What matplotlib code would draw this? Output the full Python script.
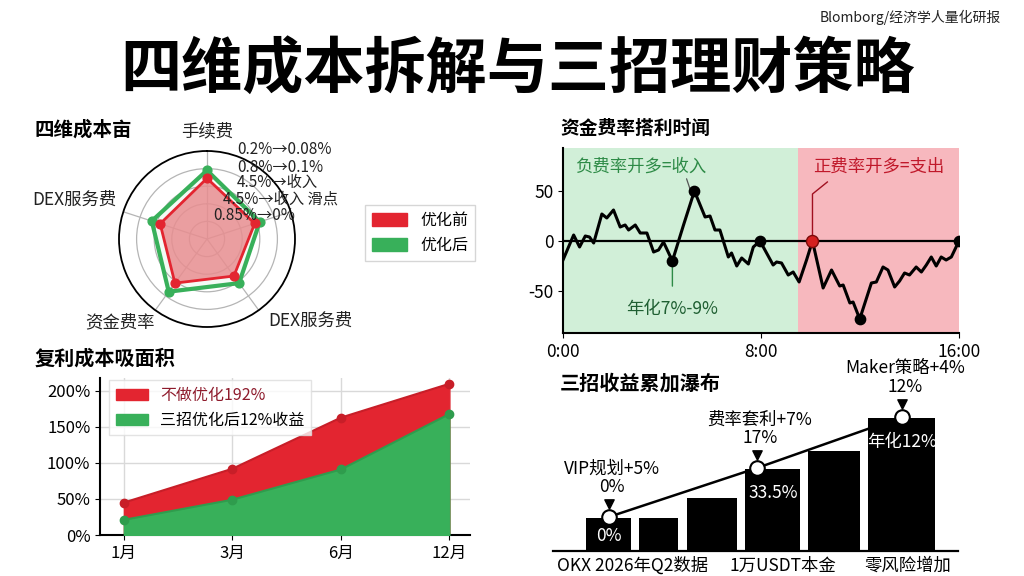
import numpy as np
import matplotlib
matplotlib.use('Agg')
import matplotlib.pyplot as plt
from matplotlib.patches import Patch

plt.rcParams['font.family'] = ['Noto Sans CJK SC', 'DejaVu Sans']
plt.rcParams['axes.unicode_minus'] = False

# ---- 数据 ----
radar_labels = ['手续费', 'DEX服务费', '资金费率', 'DEX服务费', '滑点']
radar_before = [0.69, 0.56, 0.62, 0.52, 0.57]
radar_after = [0.78, 0.66, 0.74, 0.62, 0.63]
radar_notes = ['0.2%→0.08%', '0.8%→0.1%', '4.5%→收入', '4.5%→收入 滑点', '0.85%→0%']

months = ['1月', '3月', '6月', '12月']
cost_no_opt = [45, 92, 163, 210]
cost_opt = [21, 49, 91, 168]

fr_hours = [0, 0.43, 0.67, 0.9, 1.07, 1.24, 1.57, 1.77, 2.04, 2.31, 2.51, 2.65, 2.92,
            3.12, 3.39, 3.66, 3.86, 4.06, 4.42, 4.87, 5.31, 5.74, 5.94, 6.14, 6.34,
            6.68, 6.81, 7.02, 7.22, 7.49, 7.69, 7.96, 8.49, 8.63, 8.83, 9.1, 9.3,
            9.54, 9.84, 10.08, 10.51, 10.85, 11.18, 11.32, 11.59, 11.72, 11.99,
            12.46, 12.66, 12.93, 13.13, 13.4, 13.6, 13.8, 14.0, 14.27, 14.48,
            14.68, 14.88, 15.08, 15.28, 15.48, 15.69, 16.0]
fr_values = [-19, 6, -6, 5, 4, -2, 27, 23, 31, 14, 16, 11, 16,
             8, 8, -11, -9, -1, -20, 16, 50, 24, 25, 11, 11,
             -16, -12, -25, -17, -23, -6, 0, -24, -21, -22, -34, -31,
             -41, -19, 0, -47, -29, -45, -44, -62, -61, -78,
             -42, -41, -26, -29, -46, -40, -32, -34, -26, -31,
             -24, -16, -25, -16, -19, -16, 0]
fr_black_marks = [(4.42, -20), (5.31, 50), (7.96, 0), (11.99, -78), (16.0, 0)]
fr_red_mark = (10.08, 0)
fr_split = 9.5

wf_values = [33, 33, 53, 82, 100, 133]
wf_inner = {0: '0%', 3: '33.5%', 5: '年化12%'}
wf_steps = ['VIP规划+5%\n0%', '费率套利+7%\n17%', 'Maker策略+4%\n12%']
wf_step_bar = [0, 3, 5]
wf_ticks = ['OKX 2026年Q2数据', '1万USDT本金', '零风险增加']

# 瀑布柱的摆放（布局，不是数据）
wf_pos = [0, 0.853, 1.766, 2.799, 3.848, 5.0]
wf_width = [0.77, 0.67, 0.85, 0.94, 0.89, 1.14]
wf_step_x = [0, 2.53, 5]
wf_tick_x = [0.4, 2.98, 5.11]

RED = '#e32530'
GREEN = '#38b05a'

fig = plt.figure(figsize=(10.24, 5.76), dpi=100)
fig.patch.set_facecolor('white')

fig.text(0.505, 1 - 70 / 576, '四维成本拆解与三招理财策略', ha='center', va='center',
         fontsize=44, fontweight='bold', color='black')
fig.text(0.977, 1 - 17 / 576, 'Blomborg/经济学人量化研报', ha='right', va='center',
         fontsize=10, color='#222222')

# ---- 雷达图 ----
ax1 = fig.add_axes([119 / 1024, 1 - 327 / 576, 176 / 1024, 176 / 576], projection='polar')
ax1.set_theta_offset(np.pi / 2)
ang = np.linspace(0, 2 * np.pi, len(radar_labels), endpoint=False)
ang_c = np.append(ang, ang[0])
after_c = np.append(radar_after, radar_after[0])
before_c = np.append(radar_before, radar_before[0])
ax1.fill(ang_c, after_c, color=GREEN, alpha=0.06, zorder=2)
ax1.plot(ang_c, after_c, color=GREEN, lw=3, zorder=3)
ax1.scatter(ang, radar_after, color=GREEN, s=40, zorder=4)
ax1.fill(ang_c, before_c, color='#e98e91', alpha=0.85, zorder=3)
ax1.plot(ang_c, before_c, color=RED, lw=2, zorder=4)
ax1.scatter(ang, radar_before, color=RED, s=40, zorder=5)
ax1.set_ylim(0, 1)
ax1.set_yticks([0.2, 0.4, 0.6, 0.8])
ax1.set_yticklabels([])
ax1.set_xticks(ang)
ax1.set_xticklabels([])
ax1.grid(color='#b5b5b5', lw=0.9)
ax1.spines['polar'].set_color('black')
ax1.spines['polar'].set_linewidth(1.3)

label_xy = [(207, 131, 'center'), (117, 200, 'right'), (120, 322, 'center'), (310, 321, 'center')]
for (px, py, ha), t in zip(label_xy, radar_labels[:4]):
    fig.text(px / 1024, 1 - py / 576, t, ha=ha, va='center', fontsize=12.5, color='#222222')

note_xy = [(237, 149), (237, 167), (237, 182), (223, 199), (213, 216)]
for (px, py), t in zip(note_xy, radar_notes):
    fig.text(px / 1024, 1 - py / 576, t, ha='left', va='center', fontsize=11, color='#222222')

fig.legend(handles=[Patch(facecolor=RED, edgecolor=RED), Patch(facecolor=GREEN, edgecolor=GREEN)],
           labels=['优化前', '优化后'], loc='upper left', bbox_to_anchor=(365 / 1024, 1 - 205 / 576),
           fontsize=11.5, frameon=True, edgecolor='#cccccc', fancybox=False,
           handlelength=2.2, handleheight=0.9, borderpad=0.45, borderaxespad=0)

fig.text(35 / 1024, 1 - 130 / 576, '四维成本亩', ha='left', va='center', fontsize=14, fontweight='bold')

# ---- 复利成本面积图 ----
ax2 = fig.add_axes([100 / 1024, 41 / 576, 370 / 1024, 157 / 576])
xi = np.arange(len(months))
ax2.fill_between(xi, 0, cost_no_opt, color=RED, zorder=2, label='不做优化192%')
ax2.plot(xi, cost_no_opt, color='#c81e28', lw=1.5, marker='o', ms=6, zorder=3)
ax2.fill_between(xi, 0, cost_opt, color=GREEN, zorder=3, label='三招优化后12%收益')
ax2.plot(xi, cost_opt, color='#2f9c4d', lw=1.5, marker='o', ms=6, zorder=4)
ax2.set_xlim(-0.22, 3.19)
ax2.set_ylim(0, 218)
ax2.set_xticks(xi)
ax2.set_xticklabels(months, fontsize=12)
ax2.set_yticks([0, 50, 100, 150, 200])
ax2.set_yticklabels(['0%', '50%', '100%', '150%', '200%'], fontsize=12)
ax2.grid(True, color='#d9d9d9', lw=1, zorder=0)
ax2.set_axisbelow(True)
for s in ['top', 'right']:
    ax2.spines[s].set_visible(False)
ax2.spines['left'].set_linewidth(1.5)
ax2.spines['bottom'].set_linewidth(1.5)
leg = ax2.legend(loc='upper left', fontsize=11.5, frameon=True, fancybox=False,
                 edgecolor='#dddddd', handlelength=2.0, borderpad=0.4,
                 bbox_to_anchor=(0.025, 0.985), borderaxespad=0)
leg.get_texts()[0].set_color('#8e1b2c')
fig.text(35 / 1024, 1 - 358 / 576, '复利成本吸面积', ha='left', va='center', fontsize=14.5, fontweight='bold')

# ---- 资金费率 ----
ax3 = fig.add_axes([563 / 1024, 243 / 576, 396 / 1024, 185 / 576])
ax3.axvspan(0, fr_split, color='#d1efd8', zorder=0, lw=0)
ax3.axvspan(fr_split, 16, color='#f7b8be', zorder=0, lw=0)
ax3.axhline(0, color='black', lw=1.6, zorder=2)
ax3.plot(fr_hours, fr_values, color='black', lw=2.2, zorder=3)
bx, by = zip(*fr_black_marks)
ax3.scatter(bx, by, s=55, color='black', zorder=4)
ax3.scatter([fr_red_mark[0]], [fr_red_mark[1]], s=75, color='#d42020', edgecolor='#7a0a0a', zorder=5)
ax3.set_xlim(0, 16)
ax3.set_ylim(-92, 93)
ax3.set_xticks([0, 8, 16])
ax3.set_xticklabels(['0:00', '8:00', '16:00'], fontsize=12.5)
ax3.set_yticks([-50, 0, 50])
ax3.set_yticklabels(['-50', '0', '50'], fontsize=12.5)
ax3.spines['top'].set_visible(False)
ax3.spines['right'].set_visible(False)
ax3.spines['left'].set_linewidth(1.5)
ax3.spines['bottom'].set_linewidth(1.5)
ax3.annotate('负费率开多=收入', xy=(5.2, 47), xytext=(0.5, 74), fontsize=12.5,
             color='#2e8b47', ha='left', va='center',
             arrowprops=dict(arrowstyle='-', color='#555555', lw=0.9,
                             shrinkA=0, shrinkB=4, relpos=(0.84, 0.0)))
ax3.annotate('年化7%-9%', xy=(4.42, -20), xytext=(4.42, -68), fontsize=12.5,
             color='#1f5f32', ha='center', va='center',
             arrowprops=dict(arrowstyle='-', color='#2e8b47', lw=1.0,
                             shrinkA=8, shrinkB=4))
ax3.text(10.1, 74, '正费率开多=支出', fontsize=12.5, color='#c0182a', ha='left', va='center')
ax3.plot([10.08, 10.08, 10.68], [4, 47, 59], color='#a01020', lw=1.0, zorder=3)
fig.text(560 / 1024, 1 - 128 / 576, '资金费率搭利时闻', ha='left', va='center', fontsize=13.5, fontweight='bold')

# ---- 瀑布 ----
ax4 = fig.add_axes([553 / 1024, 25 / 576, 405 / 1024, 191 / 576])
ax4.bar(wf_pos, wf_values, width=wf_width, color='black', zorder=2)
for i, t in wf_inner.items():
    ax4.text(wf_pos[i], wf_values[i] - (18 if i == 0 else 24), t, color='white',
             ha='center', va='center', fontsize=12.5, zorder=3)
wf_step_y = [wf_values[i] + 1 for i in wf_step_bar]
ax4.plot(wf_step_x, wf_step_y, color='black', lw=1.8, zorder=3)
ax4.scatter(wf_step_x, wf_step_y, s=110, color='white', edgecolor='black', lw=1.5, zorder=4)
ax4.scatter(wf_step_x, [y + 13 for y in wf_step_y], marker='v', s=45, color='black', zorder=4)
for x, y, t in zip(wf_step_x, wf_step_y, wf_steps):
    ax4.text(x + 0.05, y + 21, t, ha='center', va='bottom', fontsize=12.5, linespacing=1.05)
ax4.set_xlim(-0.95, 5.96)
ax4.set_ylim(0, 191)
ax4.set_yticks([])
ax4.set_xticks(wf_tick_x)
ax4.set_xticklabels(wf_ticks, fontsize=12.5)
ax4.tick_params(axis='x', length=0, pad=4)
for s in ['top', 'right', 'left']:
    ax4.spines[s].set_visible(False)
ax4.spines['bottom'].set_linewidth(1.6)
ax4.patch.set_alpha(0)
fig.text(560 / 1024, 1 - 383 / 576, '三招收益累加瀑布', ha='left', va='center', fontsize=14.5, fontweight='bold')

fig.savefig('out.png', dpi=100, facecolor='white')
